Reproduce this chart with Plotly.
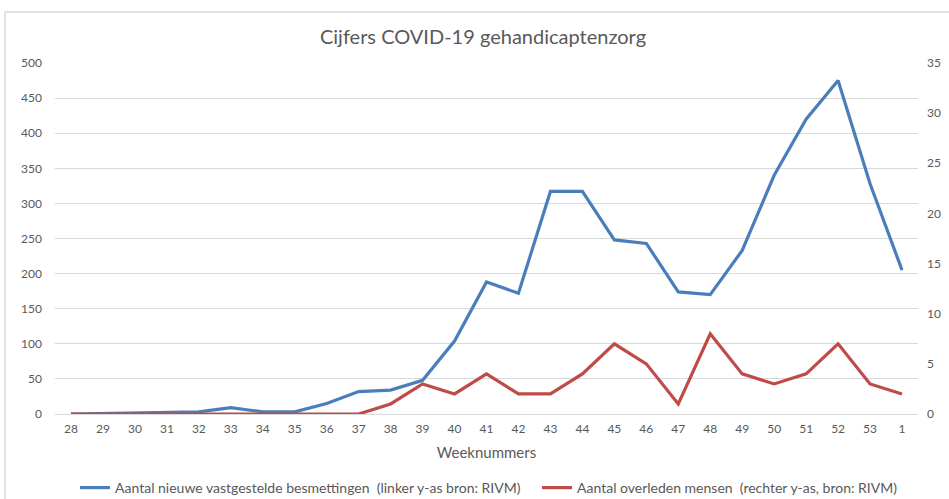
import plotly.graph_objects as go

weeks = ["28", "29", "30", "31", "32", "33", "34", "35", "36", "37", "38", "39", "40",
         "41", "42", "43", "44", "45", "46", "47", "48", "49", "50", "51", "52", "53", "1"]
besmettingen = [0, 1, 1, 3, 3, 9, 3, 3, 15, 32, 34, 48, 104, 188, 172, 317, 317, 248, 243,
                174, 170, 233, 340, 420, 475, 328, 205]
overleden = [0, 0, 0, 0, 0, 0, 0, 0, 0, 0, 1, 3, 2, 4, 2, 2, 4, 7, 5, 1, 8, 4, 3, 4, 7, 3, 2]

name_blue = "Aantal nieuwe vastgestelde besmettingen  (linker y-as bron: RIVM)"
name_red = "Aantal overleden mensen  (rechter y-as, bron: RIVM)"

FONT = "Lato"
GRAY = "#595959"

W, H = 949, 499
L, R, T, B = 55, 918, 63, 414
pw, ph = R - L, B - T

def px(x):
    return (x - L) / pw

def py(y):
    return (B - y) / ph

fig = go.Figure()
fig.add_trace(go.Scatter(x=weeks, y=besmettingen, mode="lines", name=name_blue,
                         line=dict(color="#4a7ebb", width=3.2), legend="legend"))
fig.add_trace(go.Scatter(x=weeks, y=overleden, mode="lines", name=name_red, yaxis="y2",
                         line=dict(color="#be4b48", width=3.2), legend="legend2"))

leg_common = dict(orientation="h", yanchor="middle", xanchor="left",
                  font=dict(size=14, color=GRAY, family=FONT), bgcolor="rgba(0,0,0,0)",
                  itemwidth=30)

fig.update_layout(
    width=W, height=H,
    margin=dict(l=L, r=W - R, t=T, b=H - B, autoexpand=False),
    paper_bgcolor="white", plot_bgcolor="white",
    font=dict(family=FONT, color=GRAY, size=12),
    title=dict(text="Cijfers COVID-19 gehandicaptenzorg", x=483 / W, xanchor="center",
               y=1 - 37 / H, yanchor="middle", font=dict(size=20, color=GRAY, family=FONT)),
    xaxis=dict(type="category", range=[-0.5, len(weeks) - 0.5], showgrid=False,
               showline=True, linecolor="#d9d9d9", linewidth=1, ticks="", automargin=False,
               tickfont=dict(size=12, color=GRAY), ticklabelstandoff=4,
               title=dict(text="Weeknummers", font=dict(size=15, color=GRAY), standoff=12)),
    yaxis=dict(range=[0, 500], dtick=50, showgrid=True, gridcolor="#d9d9d9", gridwidth=1,
               zeroline=False, showline=False, ticks="", automargin=False,
               tickfont=dict(size=12, color=GRAY), ticklabelstandoff=12),
    yaxis2=dict(range=[0, 35], dtick=5, overlaying="y", side="right", showgrid=False,
                zeroline=False, showline=False, ticks="", automargin=False,
                tickfont=dict(size=12, color=GRAY), ticklabelstandoff=8),
    showlegend=True,
    legend=dict(x=px(75), y=py(488), **leg_common),
    legend2=dict(x=px(537), y=py(488), **leg_common),
    shapes=[
        dict(type="rect", xref="paper", yref="paper", x0=px(5), x1=px(960), y0=py(510),
             y1=py(12), line=dict(color="#d9d9d9", width=1.5), fillcolor="rgba(0,0,0,0)",
             layer="below"),
    ],
)

fig.write_html("out.html", config={"displayModeBar": False},
               post_script="document.body.style.margin='0';document.body.style.overflow='hidden';")
